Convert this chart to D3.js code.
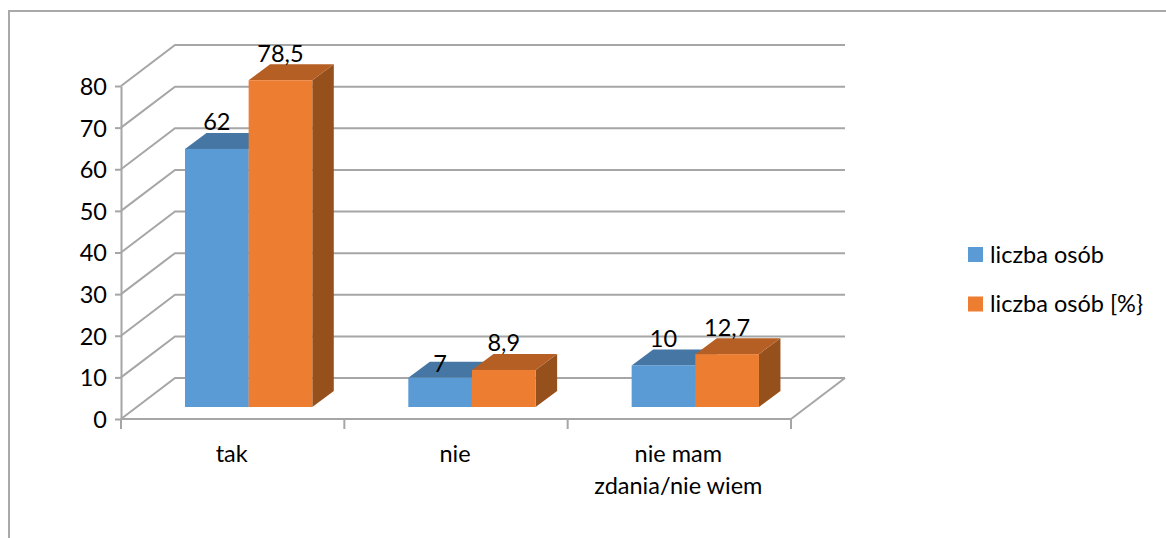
<!DOCTYPE html>
<html><head><meta charset="utf-8">
<script src="https://cdn.jsdelivr.net/npm/d3@7/dist/d3.min.js"></script>
<style>html,body{margin:0;padding:0;background:#fff}svg{display:block}text{font-family:Lato,"Open Sans",sans-serif;fill:#000}</style>
</head><body><svg id="c" width="1166" height="538"></svg>
<script>
const categories = ["tak", "nie", "nie mam zdania/nie wiem"];
const seriesNames = ["liczba osób", "liczba osób [%}"];
const countValues = [62, 7, 10];
const percentValues = [78.5, 8.9, 12.7];
const percentLabels = ["78,5", "8,9", "12,7"];
const yTicks = [0, 10, 20, 30, 40, 50, 60, 70, 80];
const series = [countValues, percentValues];
const labels = [countValues.map(String), percentLabels];
const front = ["#5b9bd5", "#ed7d31"], topC = ["#4677a4", "#b55f25"], side = ["#3e6b94", "#96501c"];
const gridC = "#a6a6a6";

const svg = d3.select("#c");
const fs = 23.5;
const dx = 54, dy = -41;           // wall depth
const bx = 21.5, by = -16;         // bar depth
const baseLift = 12;               // bars stand in the floor's middle
const x = d3.scaleBand().domain(categories).range([121, 791]);
const y = d3.scaleLinear().domain([0, 80]).range([419, 86]);
const barW = x.step() * 0.285;
const inset = x.step() * 0.2865;

// frame
svg.append("path").attr("d", "M9,538V11H1166").attr("fill", "none").attr("stroke", "#a9a9a9").attr("stroke-width", 2);

// gridlines on the wall
const g = svg.append("g").attr("fill", "none").attr("stroke", gridC).attr("stroke-width", 2);
yTicks.forEach(t => {
  g.append("path").attr("d", d3.line()([[x.range()[0], y(t)], [x.range()[0] + dx, y(t) + dy], [x.range()[1] + dx, y(t) + dy]]));
});
g.append("path").attr("d", d3.line()([[x.range()[1], y(0)], [x.range()[1] + dx, y(0) + dy]]));

// y axis
const ya = svg.append("g").attr("transform", "translate(121,0)")
  .call(d3.axisLeft(y).tickValues(yTicks).tickSize(6).tickSizeOuter(0).tickPadding(8));
ya.selectAll("path,line").attr("stroke", gridC).attr("stroke-width", 2);
ya.selectAll("text").attr("font-size", fs).style("font-family", "Lato").attr("fill", "#000").attr("dy", "0.36em");

// x axis
const xa = svg.append("g").attr("transform", "translate(0,419)")
  .call(d3.axisBottom(x).tickSize(0).tickFormat(""));
xa.select("path").remove();
const bounds = d3.range(categories.length + 1).map(i => x.range()[0] + i * x.step());
svg.append("g").selectAll("line").data(bounds).join("line")
  .attr("x1", d => d).attr("x2", d => d).attr("y1", 419).attr("y2", 429)
  .attr("stroke", gridC).attr("stroke-width", 2);
svg.append("line").attr("x1", 121).attr("x2", 791).attr("y1", 419).attr("y2", 419).attr("stroke", gridC).attr("stroke-width", 2);

const catLines = { "nie mam zdania/nie wiem": ["nie mam", "zdania/nie wiem"] };
categories.forEach(c => {
  const lines = catLines[c] || [c];
  lines.forEach((l, i) => svg.append("text").attr("x", x(c) + x.step() / 2 - 1)
    .attr("y", 462 + i * 31.5).attr("text-anchor", "middle").attr("font-size", fs).text(l));
});

// bars
const bars = svg.append("g");
categories.forEach((c, ci) => {
  series.forEach((s, si) => {
    const x0 = x(c) + inset + si * barW, x1 = x0 + barW;
    const yT = y(s[ci]) - baseLift, yB = y(0) - baseLift;
    bars.append("path").attr("fill", side[si]).attr("d", d3.line()([[x1, yT], [x1 + bx, yT + by], [x1 + bx, yB + by], [x1, yB]]) + "Z");
    bars.append("path").attr("fill", topC[si]).attr("d", d3.line()([[x0, yT], [x0 + bx, yT + by], [x1 + bx, yT + by], [x1, yT]]) + "Z");
    bars.append("rect").attr("x", x0).attr("y", yT).attr("width", barW).attr("height", yB - yT).attr("fill", front[si]);
  });
});

// data labels
categories.forEach((c, ci) => {
  series.forEach((s, si) => {
    const cx = x(c) + inset + (si + .5) * barW;
    const off = s[ci] === 7 ? 6 : 18.5;
    svg.append("text").attr("x", cx).attr("y", y(s[ci]) - baseLift - off)
      .attr("text-anchor", "middle").attr("font-size", fs).text(labels[si][ci]);
  });
});

// legend
seriesNames.forEach((n, i) => {
  const ly = 247 + i * 49.5;
  svg.append("rect").attr("x", 968).attr("y", ly).attr("width", 15).attr("height", 15).attr("fill", front[i]);
  svg.append("text").attr("x", 990).attr("y", ly + 15.5).attr("font-size", fs).text(n);
});
</script></body></html>
